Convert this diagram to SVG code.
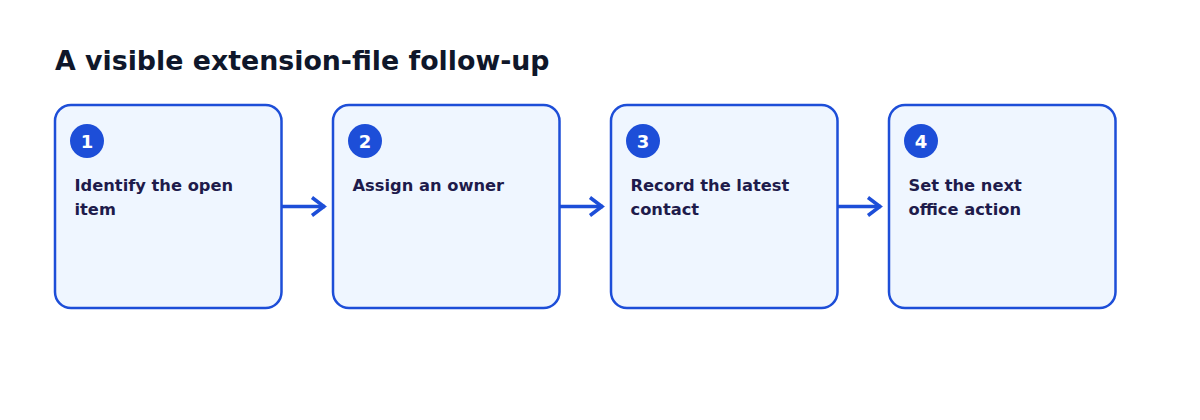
<svg xmlns="http://www.w3.org/2000/svg" width="1200" height="420" viewBox="0 0 1200 420">
<style>
.title{font-family:"DejaVu Sans",sans-serif;font-weight:bold;font-size:26.8px;fill:#0f172a}
.box{fill:#eff6ff;stroke:#1d4ed8;stroke-width:2.5}
.badge{fill:#1d4ed8}
.num{font-family:"DejaVu Sans",sans-serif;font-weight:bold;font-size:18px;fill:#ffffff}
.lbl{font-family:"DejaVu Sans",sans-serif;font-weight:bold;font-size:16.3px;fill:#1e1b4b}
.conn{stroke:#1d4ed8;stroke-width:3.5;fill:none}
</style>
<defs>
<marker id="arr" viewBox="0 0 20 24" refX="16" refY="12" markerWidth="20" markerHeight="24" markerUnits="userSpaceOnUse" orient="auto">
<path d="M3,3 L15,12 L3,21" fill="none" stroke="#1d4ed8" stroke-width="3.5"/>
</marker>
</defs>
<rect width="1200" height="420" fill="#ffffff"/>
<text class="title" x="55" y="70">A visible extension-file follow-up</text>
<g id="n1">
<rect class="box" x="55" y="105" width="226.5" height="203" rx="16"/>
<circle class="badge" cx="87" cy="141" r="17"/>
<text class="num" x="87" y="147.5" text-anchor="middle">1</text>
<text class="lbl" x="74.5" y="191">Identify the open</text>
<text class="lbl" x="74.5" y="215">item</text>
</g>
<g id="n2">
<rect class="box" x="333" y="105" width="226.5" height="203" rx="16"/>
<circle class="badge" cx="365" cy="141" r="17"/>
<text class="num" x="365" y="147.5" text-anchor="middle">2</text>
<text class="lbl" x="352.5" y="191">Assign an owner</text>
</g>
<g id="n3">
<rect class="box" x="611" y="105" width="226.5" height="203" rx="16"/>
<circle class="badge" cx="643" cy="141" r="17"/>
<text class="num" x="643" y="147.5" text-anchor="middle">3</text>
<text class="lbl" x="630.5" y="191">Record the latest</text>
<text class="lbl" x="630.5" y="215">contact</text>
</g>
<g id="n4">
<rect class="box" x="889" y="105" width="226.5" height="203" rx="16"/>
<circle class="badge" cx="921" cy="141" r="17"/>
<text class="num" x="921" y="147.5" text-anchor="middle">4</text>
<text class="lbl" x="908.5" y="191">Set the next</text>
<text class="lbl" x="908.5" y="215">office action</text>
</g>
<g id="connectors">
<path class="conn" d="M282,206.5 H325" marker-end="url(#arr)"/>
<path class="conn" d="M560,206.5 H603" marker-end="url(#arr)"/>
<path class="conn" d="M838,206.5 H881" marker-end="url(#arr)"/>
</g>
</svg>
